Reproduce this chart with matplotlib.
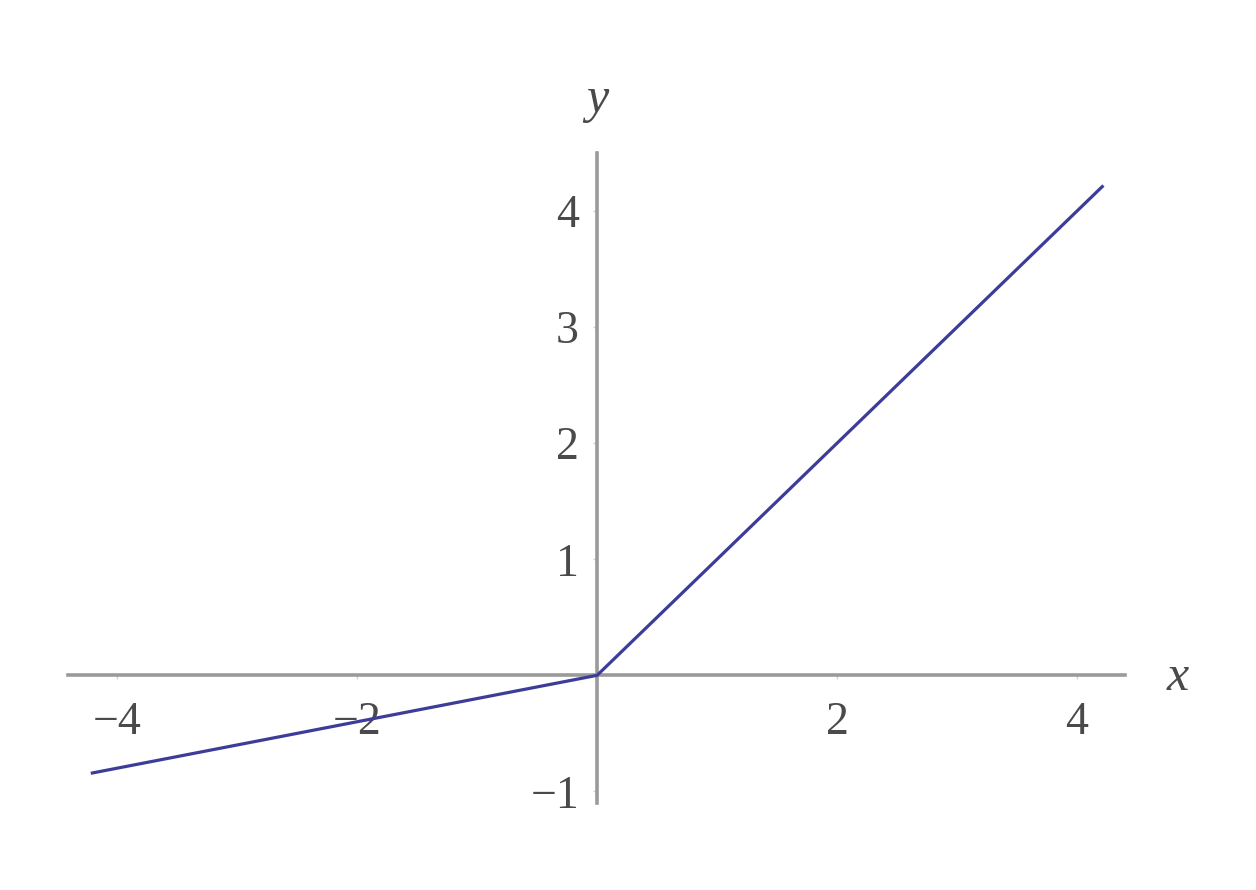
import numpy as np
import matplotlib.pyplot as plt

# Leaky ReLU: slope 1 for x >= 0, slope 0.2 for x < 0
x_knots = [-4.22, 0.0, 4.22]
y_knots = [-0.844, 0.0, 4.22]
x_ticks = [-4, -2, 2, 4]
y_ticks = [-1, 1, 2, 3, 4]

plt.rcParams['font.family'] = ['Liberation Serif', 'DejaVu Serif']

fig = plt.figure(figsize=(12.56, 8.9), dpi=100)
fig.patch.set_facecolor('white')
ax = fig.add_axes([68 / 1256, 1 - 803 / 890, (1125 - 68) / 1256, 650 / 890])
ax.set_xlim(-4.41, 4.4)
ax.set_ylim(-1.1, 4.5)

ax.plot(x_knots, y_knots, color='#3d3d99', lw=2.3, solid_capstyle='butt', zorder=3)

# axes through the origin
for side in ['top', 'right']:
    ax.spines[side].set_visible(False)
for side in ['left', 'bottom']:
    ax.spines[side].set_position(('data', 0))
    ax.spines[side].set_color('#9a9a9a')
    ax.spines[side].set_linewidth(2.6)

ax.set_xticks(x_ticks)
ax.set_yticks(y_ticks)
ax.set_xticklabels(['\u22124', '\u22122', '2', '4'])
ax.set_yticklabels(['\u22121', '1', '2', '3', '4'])
ax.tick_params(axis='both', length=3, width=1.0, color='#d0d0d0',
               labelsize=33, labelcolor='#4a4a4a')
ax.tick_params(axis='x', pad=16)
ax.tick_params(axis='y', pad=10)

ax.text(1178 / 1256, 1 - 678 / 890, 'x', transform=fig.transFigure, fontsize=36,
        style='italic', color='#4a4a4a', ha='center', va='center')
ax.text(597 / 1256, 1 - 100 / 890, 'y', transform=fig.transFigure, fontsize=36,
        style='italic', color='#4a4a4a', ha='center', va='center')

fig.savefig('out.png', dpi=100)
